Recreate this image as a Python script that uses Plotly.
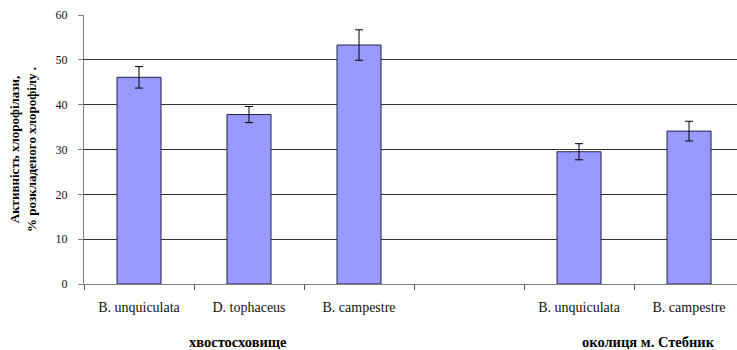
import plotly.graph_objects as go

# Species measured at each site; the empty slot separates the two sites
species = ["B. unquiculata", "D. tophaceus", "B. campestre", "",
           "B. unquiculata", "B. campestre"]
activity = [46.1, 37.8, 53.3, None, 29.5, 34.1]
errors = [2.4, 1.8, 3.4, None, 1.8, 2.2]
sites = ["хвостосховище", "околиця м. Стебник"]
site_pos = [0.9, 4.63]
y_ticks = [0, 10, 20, 30, 40, 50, 60]

positions = list(range(len(species)))

serif = "Liberation Serif"

fig = go.Figure()
fig.add_trace(go.Bar(
    x=positions,
    y=activity,
    width=0.4,
    marker=dict(color="#9999FF", line=dict(color="#222244", width=1)),
    error_y=dict(type="data", array=errors, visible=True,
                 color="#000000", thickness=1, width=4),
    showlegend=False,
))

for name, pos in zip(sites, site_pos):
    fig.add_annotation(
        x=pos, xref="x", y=-0.215, yref="paper", yanchor="middle",
        text=f"<b>{name}</b>", showarrow=False,
        font=dict(family=serif, size=14.5, color="#000000"),
    )

fig.update_layout(
    width=737, height=350,
    margin=dict(l=84, r=0, t=15, b=66),
    plot_bgcolor="#FFFFFF", paper_bgcolor="#FFFFFF",
    font=dict(family=serif),
    bargap=0.6,
    xaxis=dict(
        range=[-0.5, 5.436],
        tickmode="array", tickvals=positions, ticktext=species,
        ticks="", ticklabelstandoff=10,
        showgrid=False, zeroline=False,
        showline=True, linecolor="#808080", linewidth=1,
        tickfont=dict(family=serif, size=14, color="#111111"),
        minor=dict(tickmode="array", tickvals=[p - 0.5 for p in positions],
                   ticks="outside", ticklen=5, tickcolor="#555555",
                   showgrid=False),
    ),
    yaxis=dict(
        range=[0, 60],
        tickmode="array", tickvals=y_ticks,
        ticks="outside", ticklen=5, tickcolor="#808080",
        ticklabelstandoff=8,
        showgrid=True, gridcolor="#333333", gridwidth=1,
        zeroline=False,
        showline=True, linecolor="#808080", linewidth=1,
        tickfont=dict(family=serif, size=12, color="#111111"),
        title=dict(
            text="<b>Активність хлорофілази,<br>% розкладеного хлорофілу .</b>",
            font=dict(family=serif, size=13, color="#000000"),
            standoff=16,
        ),
    ),
)

fig.write_html("out.html")
